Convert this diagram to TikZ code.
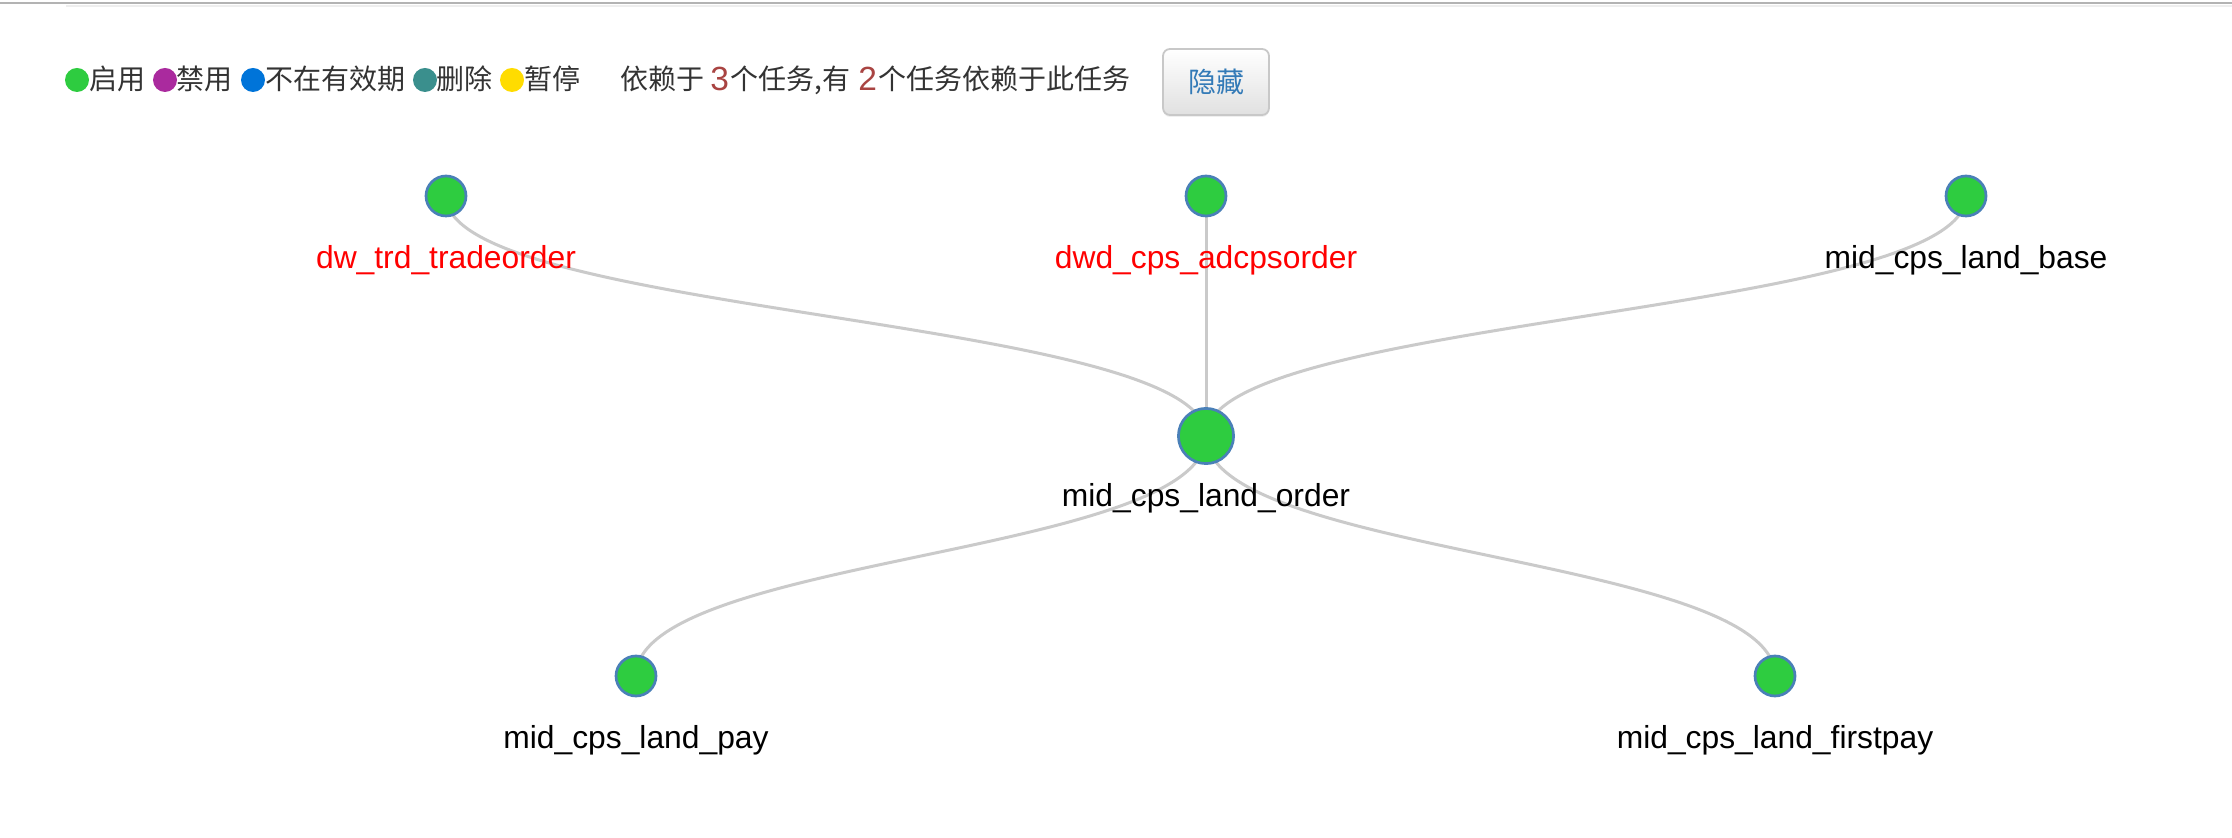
\documentclass[tikz,border=0pt]{standalone}
\usepackage{fontspec}
\setmainfont{Liberation Sans}
\newfontfamily\cjk{Noto Sans CJK SC}
\usetikzlibrary{shadows}
\definecolor{nodegreen}{HTML}{2ECC40}
\definecolor{nodeblue}{HTML}{4A80B8}
\definecolor{edgegray}{HTML}{CACACA}
\definecolor{lgpurple}{HTML}{AA2A9E}
\definecolor{lgblue}{HTML}{0074D9}
\definecolor{lgteal}{HTML}{3A8F8D}
\definecolor{lgyellow}{HTML}{FFDC00}
\definecolor{hdrgray}{HTML}{333333}
\definecolor{numred}{HTML}{A94442}
\definecolor{btnblue}{HTML}{337AB7}
\definecolor{btnborder}{HTML}{C8C8C8}
\definecolor{rulegray}{HTML}{B3B3B3}
\definecolor{rulelight}{HTML}{EEEEEE}
\pgfdeclarelayer{background}
\pgfsetlayers{background,main}
\begin{document}
\begin{tikzpicture}[x=0.5pt,y=-0.5pt,
  dot/.style={circle, fill=nodegreen, draw=nodeblue, line width=1.35pt, inner sep=0pt, minimum size=20pt},
  bigdot/.style={dot, minimum size=27.6pt},
  lbl/.style={anchor=base, inner sep=0pt, font=\fontsize{15.9pt}{18pt}\selectfont},
  redlbl/.style={lbl, text=red},
  lgdot/.style={circle, inner sep=0pt, minimum size=12pt},
  hdr/.style={anchor=base west, inner sep=0pt, text=hdrgray, font=\cjk\fontsize{14pt}{16pt}\selectfont},
  num/.style={anchor=base west, inner sep=0pt, text=numred, font=\fontsize{16.75pt}{18pt}\selectfont},
  link/.style={draw=edgegray, line width=1.5pt},
  btn/.style={draw=btnborder, line width=0.9pt, rounded corners=3.5pt, top color=white, bottom color=black!12,
    minimum width=53pt, minimum height=33pt, inner sep=0pt, text=btnblue,
    font=\cjk\fontsize{14pt}{16pt}\selectfont,
    drop shadow={opacity=0.12, shadow xshift=0pt, shadow yshift=-1pt}}
]
\useasboundingbox (0,0) rectangle (2232,838);
\begin{pgfonlayer}{background}
\fill[white] (0,0) rectangle (2232,838);
\end{pgfonlayer}
% top rules
\coordinate (r1a) at (0,3);
\coordinate (r1b) at (2232,3);
\coordinate (r2a) at (66,6.5);
\coordinate (r2b) at (2232,6.5);
\draw[rulegray, line width=1pt] (r1a) -- (r1b);
\draw[rulelight, line width=1pt] (r2a) -- (r2b);
% legend
\node[lgdot, fill=nodegreen] (lg1) at (77,80) {};
\node[hdr] (lt1) at (89,90) {启用};
\node[lgdot, fill=lgpurple] (lg2) at (165,80) {};
\node[hdr] (lt2) at (176,90) {禁用};
\node[lgdot, fill=lgblue] (lg3) at (253,80) {};
\node[hdr] (lt3) at (265,90) {不在有效期};
\node[lgdot, fill=lgteal] (lg4) at (425,80) {};
\node[hdr] (lt4) at (436,90) {删除};
\node[lgdot, fill=lgyellow] (lg5) at (512,80) {};
\node[hdr] (lt5) at (524,90) {暂停};
% dependency summary
\node[hdr] (s1) at (620,90) {依赖于};
\node[num] (n1) at (710,90.5) {3};
\node[hdr] (s2) at (730,90) {个任务,有};
\node[num] (n2) at (858,90.5) {2};
\node[hdr] (s3) at (878,90) {个任务依赖于此任务};
% button
\node[btn] (hide) at (1216,82) {隐藏};
% graph nodes
\node[dot] (A) at (446,196) {};
\node[dot] (B) at (1206,196) {};
\node[dot] (C) at (1966,196) {};
\node[bigdot] (O) at (1206,436) {};
\node[dot] (P) at (636,676) {};
\node[dot] (F) at (1775,676) {};
% labels
\node[redlbl] (Al) at (446,269) {dw\_trd\_tradeorder};
\node[redlbl] (Bl) at (1206,269) {dwd\_cps\_adcpsorder};
\node[lbl] (Cl) at (1966,269) {mid\_cps\_land\_base};
\node[lbl] (Ol) at (1206,507) {mid\_cps\_land\_order};
\node[lbl] (Pl) at (636,748) {mid\_cps\_land\_pay};
\node[lbl] (Fl) at (1775,748) {mid\_cps\_land\_firstpay};
% links
\begin{pgfonlayer}{background}
\path[link] (A.center) .. controls +(0,120) and +(0,-120) .. (O.center);
\path[link] (B.center) .. controls +(0,120) and +(0,-120) .. (O.center);
\path[link] (C.center) .. controls +(0,120) and +(0,-120) .. (O.center);
\path[link] (O.center) .. controls +(0,120) and +(0,-120) .. (P.center);
\path[link] (O.center) .. controls +(0,120) and +(0,-120) .. (F.center);
\end{pgfonlayer}
\end{tikzpicture}
\end{document}
